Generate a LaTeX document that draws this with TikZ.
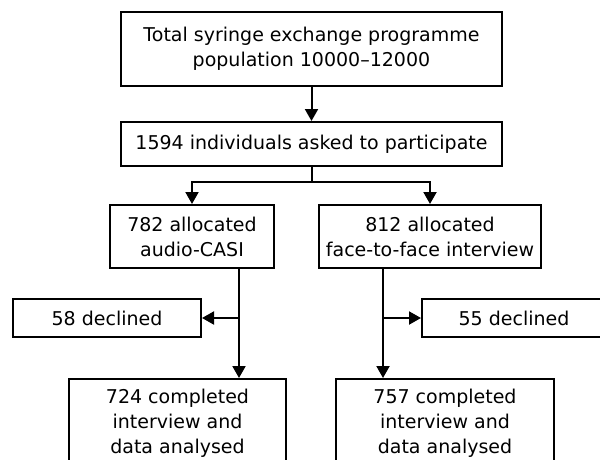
\documentclass[tikz,border=0pt]{standalone}
\usepackage{fontspec}
\setmainfont{DejaVu Sans}
\usetikzlibrary{arrows.meta}
\begin{document}
\begin{tikzpicture}[x=1pt,y=-1pt,
  box/.style={draw=black, line width=2pt, inner sep=0pt, align=center,
    font=\fontsize{19pt}{25pt}\selectfont},
  link/.style={line width=2pt},
  arr/.style={line width=2pt, -{Triangle[length=12pt,width=13pt]}}]
\fill[white] (0,0) rectangle (600,459);
\clip (0,0) rectangle (600,459);
\useasboundingbox (0,0) rectangle (600,459);

\node[box, minimum width=381pt, minimum height=74pt] (top) at (311.5,49)
  {Total syringe exchange programme\\population 10000–12000};
\node[box, minimum width=381pt, minimum height=44pt] (ask) at (311.5,144)
  {1594 individuals asked to participate};
\node[box, minimum width=164pt, minimum height=63pt] (aL) at (192,236.5)
  {782 allocated\\audio-CASI};
\node[box, minimum width=222pt, minimum height=63pt] (aR) at (430,236.5)
  {812 allocated\\face-to-face interview};
\node[box, minimum width=188pt, minimum height=38pt] (dL) at (107,318)
  {58 declined};
\node[box, minimum width=184pt, minimum height=38pt] (dR) at (514,318)
  {55 declined};
\node[box, minimum width=217pt, inner ysep=10.5pt, anchor=north] (cL) at (177.5,378)
  {724 completed\\interview and\\data analysed};
\node[box, minimum width=218pt, inner ysep=10.5pt, anchor=north] (cR) at (445,378)
  {757 completed\\interview and\\data analysed};

\coordinate (sp) at (311.5,182);
\coordinate (vL) at (239,0);
\coordinate (vR) at (383,0);

\draw[arr] (top.south) -- (ask.north);
\draw[link] (ask.south) -- (sp);
\draw[arr] (sp) -| (aL.north);
\draw[arr] (sp) -| (aR.north);
\draw[arr] (aL.south -| vL) -- (cL.north -| vL);
\draw[arr] (aR.south -| vR) -- (cR.north -| vR);
\draw[arr] (dL.east -| vL) -- (dL.east);
\draw[arr] (dR.west -| vR) -- (dR.west);
\end{tikzpicture}
\end{document}
